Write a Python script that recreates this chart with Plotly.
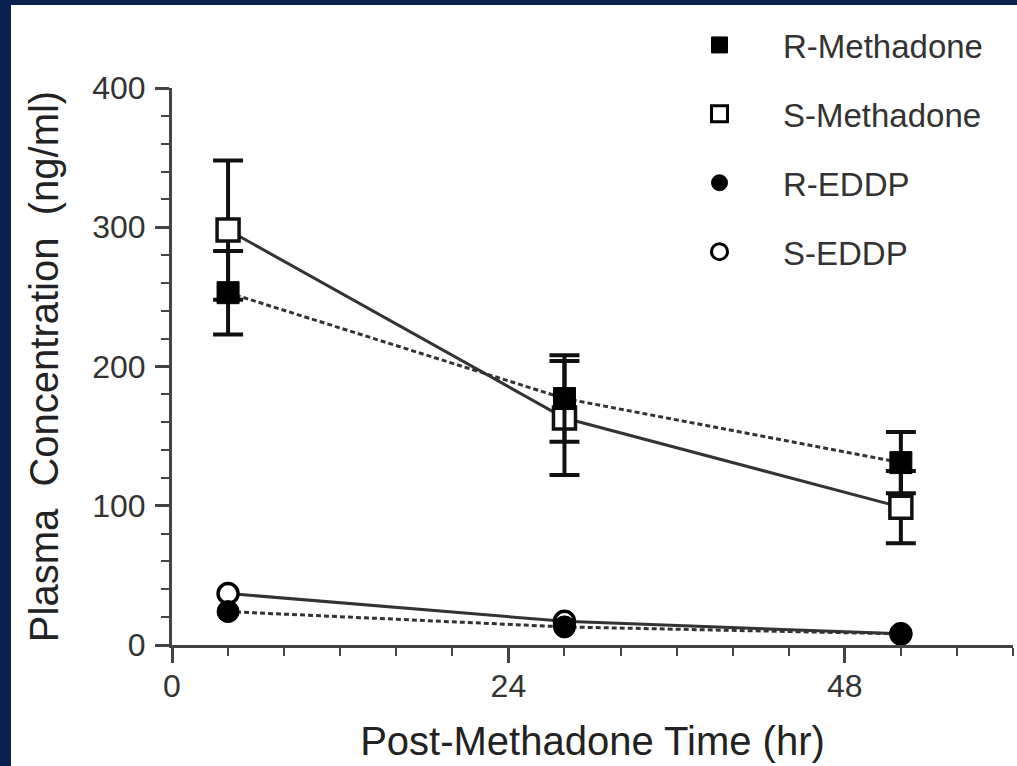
import plotly.graph_objects as go

# ---- data ----
time_hr = [4, 28, 52]
r_methadone = [253, 177, 131]
r_methadone_err = [30, 31, 22]
s_methadone = [298, 163, 99]
s_methadone_err = [50, 41, 26]
r_eddp = [24, 13, 8]
s_eddp = [37, 17, 8]

series_names = ["R-Methadone", "S-Methadone", "R-EDDP", "S-EDDP"]
x_ticks = [0, 24, 48]
y_ticks = [0, 100, 200, 300, 400]

FONT = "Liberation Sans, Arial, sans-serif"
LINE_COL = "#333333"
AX_COL = "#444444"

W, H = 1017, 766
ML, MR, MT, MB = 172, 4, 88, 121
PW, PH = W - ML - MR, H - MT - MB

fig = go.Figure()

err_style = dict(type="data", thickness=4, width=15, color="#111111")

# S-Methadone (solid, open square)
fig.add_trace(go.Scatter(
    x=time_hr, y=s_methadone, mode="lines+markers", showlegend=False,
    line=dict(color=LINE_COL, width=3),
    marker=dict(symbol="square", size=22, color="white",
                line=dict(color="#111111", width=3.5)),
    error_y=dict(array=s_methadone_err, **err_style)))
# R-Methadone (dashed, filled square)
fig.add_trace(go.Scatter(
    x=time_hr, y=r_methadone, mode="lines+markers", showlegend=False,
    line=dict(color=LINE_COL, width=3, dash="5px,3px"),
    marker=dict(symbol="square", size=22, color="#000000",
                line=dict(color="#000000", width=1)),
    error_y=dict(array=r_methadone_err, **err_style)))
# S-EDDP (solid, open circle)
fig.add_trace(go.Scatter(
    x=time_hr, y=s_eddp, mode="lines+markers", showlegend=False,
    line=dict(color=LINE_COL, width=3),
    marker=dict(symbol="circle", size=20, color="white",
                line=dict(color="#000000", width=3.5))))
# R-EDDP (dashed, filled circle)
fig.add_trace(go.Scatter(
    x=time_hr, y=r_eddp, mode="lines+markers", showlegend=False,
    line=dict(color=LINE_COL, width=3, dash="5px,3px"),
    marker=dict(symbol="circle", size=22, color="#000000",
                line=dict(color="#000000", width=1))))

# legend-only entries (markers only, as in the reference)
leg_markers = [
    dict(symbol="square", size=20, color="#000000", line=dict(color="#000000", width=1)),
    dict(symbol="square", size=20, color="white", line=dict(color="#000000", width=3)),
    dict(symbol="circle", size=20, color="#000000", line=dict(color="#000000", width=1)),
    dict(symbol="circle", size=20, color="white", line=dict(color="#000000", width=3)),
]
for i, (name, mk) in enumerate(zip(series_names, leg_markers)):
    fig.add_trace(go.Scatter(x=[None], y=[None], mode="markers", name=name,
                             marker=mk, legendgroup=f"g{i}", showlegend=True))

# navy border strips (left and top)
def px_x(p):
    return (p - ML) / PW

def px_y(p):
    return (H - MB - p) / PH

NAVY = "#0a2150"
fig.add_shape(type="rect", xref="paper", yref="paper", layer="above",
              x0=px_x(0), x1=px_x(11), y0=px_y(H), y1=px_y(0),
              line=dict(width=0), fillcolor=NAVY)
fig.add_shape(type="rect", xref="paper", yref="paper", layer="above",
              x0=px_x(0), x1=px_x(W), y0=px_y(5), y1=px_y(0),
              line=dict(width=0), fillcolor=NAVY)

fig.update_layout(
    width=W, height=H,
    margin=dict(l=ML, r=MR, t=MT, b=MB, pad=0),
    paper_bgcolor="white", plot_bgcolor="white",
    font=dict(family=FONT, color="#222222"),
    legend=dict(x=px_x(656), y=px_y(17), xanchor="left", yanchor="top",
                font=dict(family=FONT, size=33, color="#333333"),
                bgcolor="rgba(0,0,0,0)", traceorder="grouped",
                tracegroupgap=23, itemwidth=117, itemsizing="trace"),
    xaxis=dict(range=[0, 60], tickmode="array", tickvals=x_ticks,
               ticktext=[str(v) for v in x_ticks],
               showgrid=False, zeroline=False, showline=True,
               linecolor=AX_COL, linewidth=3,
               ticks="outside", ticklen=15, tickwidth=3, tickcolor=AX_COL,
               ticklabelstandoff=-4,
               tickfont=dict(family=FONT, size=32, color="#333333"),
               minor=dict(dtick=4, ticks="outside", ticklen=8, tickwidth=2,
                          tickcolor=AX_COL, showgrid=False),
               title=dict(text="Post-Methadone Time (hr)", standoff=24,
                          font=dict(family=FONT, size=40, color="#222222"))),
    yaxis=dict(range=[0, 400], tickmode="array", tickvals=y_ticks,
               ticktext=[str(v) for v in y_ticks],
               showgrid=False, zeroline=False, showline=True,
               linecolor=AX_COL, linewidth=3,
               ticks="outside", ticklen=14, tickwidth=3, tickcolor=AX_COL,
               ticklabelstandoff=3,
               tickfont=dict(family=FONT, size=32, color="#333333"),
               minor=dict(dtick=20, ticks="outside", ticklen=8, tickwidth=2,
                          tickcolor=AX_COL, showgrid=False),
               title=dict(text="Plasma  Concentration  (ng/ml)", standoff=22,
                          font=dict(family=FONT, size=40, color="#222222"))),
)

fig.write_html("out.html",
               config={"displayModeBar": False},
               post_script="document.body.style.margin='0';"
                           "document.body.style.overflow='hidden';")
